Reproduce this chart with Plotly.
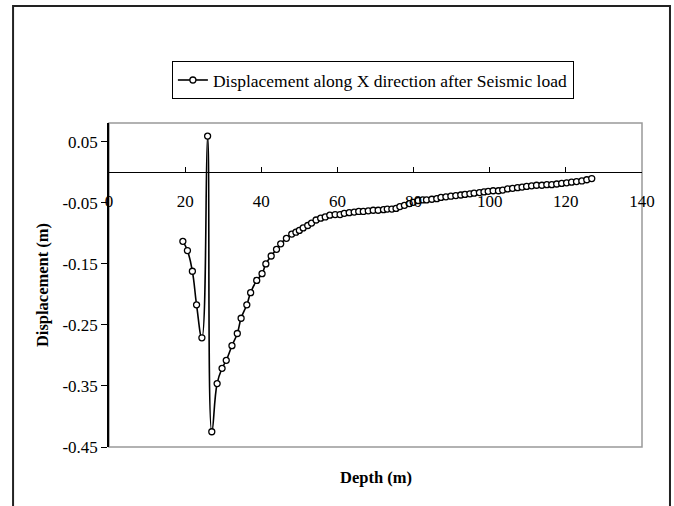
import plotly.graph_objects as go

depth = [19.4, 20.6, 21.9, 23.0, 24.4, 25.9, 27.0, 28.4, 29.7, 30.8,
         32.3, 33.7, 34.7, 36.2, 37.2, 38.8, 40.2, 41.2, 42.6, 44.0,
         45.1, 46.6, 48.0, 49.1, 50.0, 51.0, 52.2, 53.2, 54.4, 55.6,
         56.8, 58.0, 59.4, 60.7, 61.8, 63.1, 64.4, 65.6, 66.8, 68.1,
         69.4, 70.7, 72.1, 73.1, 74.3, 75.4, 76.4, 77.6, 78.9, 79.9,
         81.2, 82.4, 83.4, 84.8, 86.1, 87.2, 88.5, 89.8, 91.1, 92.4,
         93.5, 94.8, 95.9, 97.3, 98.5, 99.6, 100.9, 102.3, 103.4, 104.7,
         106.0, 107.3, 108.5, 109.7, 111.0, 112.3, 113.7, 115.0, 116.3, 117.6,
         118.9, 120.2, 121.5, 122.8, 124.2, 125.5, 126.8]
displacement = [-0.113, -0.128, -0.162, -0.217, -0.271, 0.0595, -0.425, -0.346, -0.321, -0.308,
                -0.284, -0.264, -0.239, -0.217, -0.197, -0.177, -0.166, -0.150, -0.137, -0.126,
                -0.117, -0.108, -0.101, -0.098, -0.095, -0.091, -0.087, -0.083, -0.078, -0.075,
                -0.073, -0.070, -0.069, -0.069, -0.067, -0.066, -0.065, -0.064, -0.064, -0.063,
                -0.062, -0.062, -0.061, -0.060, -0.060, -0.059, -0.056, -0.054, -0.051, -0.049,
                -0.046, -0.045, -0.045, -0.044, -0.043, -0.041, -0.040, -0.039, -0.038, -0.037,
                -0.036, -0.035, -0.034, -0.033, -0.032, -0.031, -0.030, -0.030, -0.029, -0.027,
                -0.026, -0.025, -0.024, -0.023, -0.022, -0.021, -0.021, -0.020, -0.020, -0.019,
                -0.018, -0.017, -0.016, -0.015, -0.014, -0.012, -0.010]

x_ticks = [0, 20, 40, 60, 80, 100, 120, 140]
y_ticks = [0.05, -0.05, -0.15, -0.25, -0.35, -0.45]
y_tick_labels = ["0.05", "-0.05", "-0.15", "-0.25", "-0.35", "-0.45"]

series_name = "Displacement along X direction after Seismic load"
x_range = [0, 140]
y_range = [-0.45, 0.081]

FONT = "Liberation Serif, Times New Roman, serif"

fig = go.Figure()
fig.add_trace(go.Scatter(
    x=depth, y=displacement, name=series_name,
    mode="lines+markers",
    line=dict(color="black", width=1.6, shape="spline", smoothing=1.3),
    marker=dict(symbol="circle", size=6, color="white",
                line=dict(color="black", width=1.3)),
    showlegend=True,
))

# x axis crosses the y axis at zero
x_cross_pos = (0 - y_range[0]) / (y_range[1] - y_range[0])

fig.update_layout(
    width=674, height=506,
    margin=dict(l=109, r=32, t=123, b=59),
    paper_bgcolor="white", plot_bgcolor="white",
    font=dict(family=FONT, size=17, color="black"),
    showlegend=True,
    legend=dict(
        x=0.118, y=1.191, xanchor="left", yanchor="top",
        bgcolor="white", bordercolor="black", borderwidth=1,
        font=dict(family=FONT, size=17.5, color="black"),
        itemwidth=30,
    ),
    xaxis=dict(
        range=x_range, tickvals=x_ticks,
        anchor="free", position=x_cross_pos,
        showline=True, linecolor="black", linewidth=1.2,
        ticks="inside", ticklen=5, tickcolor="black", tickwidth=1,
        showgrid=False, zeroline=False,
        ticklabelstandoff=13,
        tickfont=dict(family=FONT, size=17),
    ),
    yaxis=dict(
        range=y_range, tickvals=y_ticks, ticktext=y_tick_labels,
        showline=True, linecolor="black", linewidth=1.5,
        ticks="outside", ticklen=6, tickcolor="black", tickwidth=1,
        showgrid=False, zeroline=False,
        tickfont=dict(family=FONT, size=17),
        title=dict(text="<b>Displacement (m)</b>", standoff=10,
                   font=dict(family=FONT, size=16.5)),
    ),
    annotations=[dict(
        text="<b>Depth (m)</b>", xref="paper", yref="paper",
        x=0.5, y=-0.093, xanchor="center", yanchor="middle",
        showarrow=False, font=dict(family=FONT, size=16.5),
    )],
    shapes=[
        # plot area border (gray)
        dict(type="rect", xref="paper", yref="paper", x0=0, y0=0, x1=1, y1=1,
             line=dict(color="#999999", width=1.5), layer="below"),
        # outer chart frame (open at bottom)
        dict(type="path", xref="paper", yref="paper",
             path="M -0.180,-0.25 L -0.180,1.361 L 1.0525,1.361 L 1.0525,-0.25",
             line=dict(color="#222222", width=2)),
    ],
)

fig.write_html("out.html")
